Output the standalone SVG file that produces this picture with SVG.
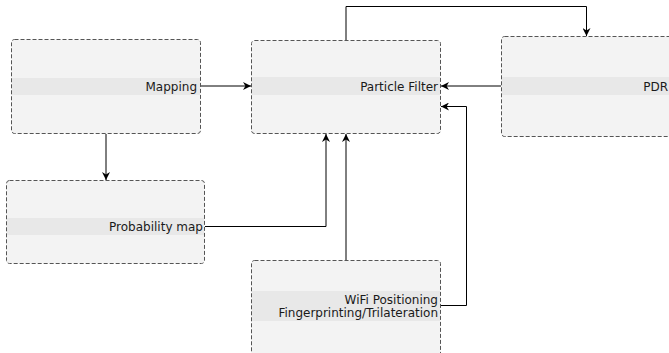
<svg xmlns="http://www.w3.org/2000/svg" width="669" height="353" viewBox="0 0 669 353">
<style>
.box{fill:#f3f3f3;stroke:#555;stroke-width:1;stroke-dasharray:4,2}
.band{fill:#e8e8e8}
.lbl{font-family:"DejaVu Sans",sans-serif;font-size:12px;fill:#1a1a1a;text-anchor:end}
.edge{fill:none;stroke:#000;stroke-width:1}
</style>
<defs>
<marker id="arr" viewBox="0 0 10 10" refX="10" refY="5" markerWidth="8" markerHeight="8" orient="auto" markerUnits="userSpaceOnUse">
<path d="M0,0 L10,5 L0,10 L3,5 Z" fill="#000"/>
</marker>
</defs>
<rect width="669" height="353" fill="#fff"/>
<g id="connectors">
<path class="edge" d="M200,86 H251" marker-end="url(#arr)"/>
<path class="edge" d="M106,134 V180" marker-end="url(#arr)"/>
<path class="edge" d="M346,40 V6.5 H586.5 V36" marker-end="url(#arr)"/>
<path class="edge" d="M501,86 H441" marker-end="url(#arr)"/>
<path class="edge" d="M205,226.5 H326 V134" marker-end="url(#arr)"/>
<path class="edge" d="M346,261 V134" marker-end="url(#arr)"/>
<path class="edge" d="M441,305.5 H466.5 V106.5 H441" marker-end="url(#arr)"/>
</g>
<g id="mapping">
<rect class="box" x="11.5" y="39.5" width="189" height="94" rx="3"/>
<rect class="band" x="12" y="78" width="188" height="17"/>
<text class="lbl" x="197" y="91">Mapping</text>
</g>
<g id="particle-filter">
<rect class="box" x="251.5" y="40.5" width="189" height="93" rx="3"/>
<rect class="band" x="252" y="77" width="188" height="18"/>
<text class="lbl" x="438" y="91">Particle Filter</text>
</g>
<g id="pdr">
<rect class="box" x="501.5" y="36.5" width="189" height="100" rx="3"/>
<rect class="band" x="502" y="77" width="188" height="18"/>
<text class="lbl" x="668" y="91">PDR</text>
</g>
<g id="probability-map">
<rect class="box" x="6.5" y="180.5" width="198" height="83" rx="3"/>
<rect class="band" x="7" y="218" width="197" height="17"/>
<text class="lbl" x="203" y="231">Probability map</text>
</g>
<g id="wifi">
<rect class="box" x="251.5" y="260.5" width="189" height="100" rx="3"/>
<rect class="band" x="252" y="291" width="188" height="30"/>
<text class="lbl" x="438" y="304">WiFi Positioning</text>
<text class="lbl" x="438" y="317">Fingerprinting/Trilateration</text>
</g>
</svg>
